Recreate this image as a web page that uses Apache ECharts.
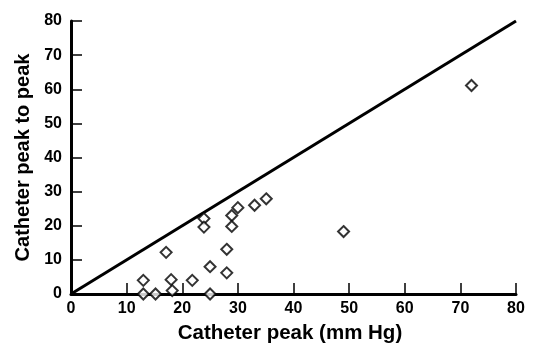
<!DOCTYPE html>
<html><head><meta charset="utf-8">
<script src="https://cdn.jsdelivr.net/npm/echarts@6/dist/echarts.min.js"></script>
<style>html,body{margin:0;padding:0;background:#fff}#c{width:541px;height:349px}</style>
</head><body><div id="c"></div>
<script>
var xTicks = [0, 10, 20, 30, 40, 50, 60, 70, 80];
var yTicks = [0, 10, 20, 30, 40, 50, 60, 70, 80];
var xValues = [13, 13, 15.2, 18, 18.2, 17.1, 21.8, 25, 25, 23.9, 23.9, 28, 28, 28.9, 28.9, 30, 33, 35.1, 49, 72];
var yValues = [4, 0, 0, 4.2, 1, 12.2, 4, 8, 0, 22.1, 19.6, 13.1, 6.2, 23, 19.8, 25.3, 26, 27.9, 18.3, 61.1];
var identityLine = [[0, 0], [80, 80]];

var pts = xValues.map(function (x, i) { return [x, yValues[i]]; });
var font = 'Liberation Sans, Arial, sans-serif';
var chart = echarts.init(document.getElementById('c'));
chart.setOption({
  animation: false,
  grid: { left: 71, right: 25, top: 21, bottom: 49 },
  xAxis: {
    type: 'value', min: xTicks[0], max: xTicks[xTicks.length - 1], interval: 10,
    name: 'Catheter peak (mm Hg)', nameLocation: 'middle', nameGap: 29,
    nameTextStyle: { fontFamily: font, fontWeight: 'bold', fontSize: 20.5, color: '#000', padding: [0, 7, 0, 0] },
    axisLine: { lineStyle: { color: '#000', width: 3 } },
    axisTick: { inside: true, length: 11, lineStyle: { color: '#000', width: 1.5 } },
    axisLabel: { fontFamily: font, fontWeight: 'bold', fontSize: 16, color: '#000', margin: 7 },
    splitLine: { show: false }
  },
  yAxis: {
    type: 'value', min: yTicks[0], max: yTicks[yTicks.length - 1], interval: 10,
    name: 'Catheter peak to peak', nameLocation: 'middle', nameGap: 34,
    nameTextStyle: { fontFamily: font, fontWeight: 'bold', fontSize: 20, color: '#000' },
    axisLine: { lineStyle: { color: '#000', width: 3 } },
    axisTick: { inside: true, length: 11, lineStyle: { color: '#000', width: 1.5 } },
    axisLabel: { fontFamily: font, fontWeight: 'bold', fontSize: 16, color: '#000', margin: 9 },
    splitLine: { show: false }
  },
  series: [
    { type: 'line', data: identityLine, symbol: 'none', lineStyle: { color: '#000', width: 3 }, z: 2 },
    { type: 'scatter', data: pts, symbol: 'diamond', symbolSize: 11,
      itemStyle: { color: '#fff', borderColor: '#000', borderWidth: 2 }, z: 3 }
  ]
});
</script></body></html>
